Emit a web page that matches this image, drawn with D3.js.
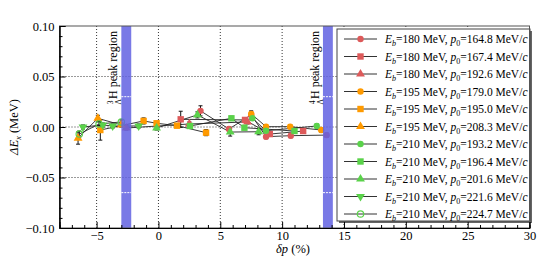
<!DOCTYPE html>
<html>
<head>
<meta charset="utf-8">
<script src="https://cdn.jsdelivr.net/npm/d3@7"></script>
<style>
  body { margin: 0; background: #fff; }
  svg { display: block; }
</style>
</head>
<body>
<svg id="chart" width="555" height="262"></svg>
<script>
// legend labels (beam energy, central momentum)
const beamE = [180, 180, 180, 195, 195, 195, 210, 210, 210, 210, 210];
const p0 = ['164.8', '167.4', '192.6', '179.0', '195.0', '208.3', '193.2', '196.4', '201.6', '221.6', '224.7'];
const colors = ['#dd5a5a', '#dd5a5a', '#dd5a5a', '#ff9a00', '#ff9a00', '#ff9a00', '#5ad24a', '#5ad24a', '#5ad24a', '#5ad24a', '#5ad24a'];
const shapes = ['circle', 'square', 'triangle', 'circle', 'square', 'triangle', 'circle', 'square', 'triangle', 'tridown', 'open'];

// dp (%) and dEx (MeV) for each setting
const dp = [
  [3.4, 5.7, 7.5, 8.7, 10.7, 13.6],
  [1.8, 7.0, 9.0, 11.7],
  [-2.6, 2.5, 7.2],
  [7.5, 8.7, 10.65, 13.16],
  [-4.7, -1.2, -0.15, 1.5, 3.85],
  [-6.5, -4.9, -3.0],
  [7.6, 8.7, 12.8],
  [2.55, 5.9, 6.95, 11.0],
  [-0.15, 3.15, 5.8, 8.1],
  [-6.1, -4.5, -3.7, -1.6],
  [-6.4, -4.8, -3.0]
];
const dEx = [
  [0.016, -0.002, 0.012, -0.0096, -0.0086, -0.008],
  [0.0076, 0.007, -0.007, -0.004],
  [-0.001, 0.003, 0.005],
  [0.013, 0.0003, 0.0003, -0.003],
  [-0.003, 0.006, 0.0037, 0.0013, -0.0056],
  [-0.011, 0.0086, 0.002],
  [0.0086, -0.0037, 0.001],
  [0.001, 0.0086, -0.0007, -0.004],
  [-0.001, 0.012, -0.005, -0.0047],
  [0.0, 0.002, 0.001, 0.001],
  [-0.007, 0.003, 0.005]
];
const dExErr = [
  [0.005, 0.002, 0.004, 0.002, 0.002, 0.002],
  [0.008, 0.002, 0.002, 0.002],
  [0.002, 0.002, 0.002],
  [0.002, 0.002, 0.002, 0.002],
  [0.01, 0.003, 0.002, 0.002, 0.003],
  [0.006, 0.003, 0.002],
  [0.002, 0.002, 0.002],
  [0.002, 0.002, 0.002, 0.002],
  [0.002, 0.003, 0.004, 0.003],
  [0.002, 0.002, 0.002, 0.002],
  [0.003, 0.002, 0.002]
];

// hypernuclear peak regions in dp (%)
const bands = [
  { label: '3', x0: -3.0, x1: -2.2 },
  { label: '4', x0: 13.3, x1: 14.1 }
];

const xTicks = [-5, 0, 5, 10, 15, 20, 25, 30];
const yTicks = [-0.1, -0.05, 0, 0.05, 0.1];

const FONT = '"Liberation Serif", "Times New Roman", Times, "DejaVu Serif", serif';
const svg = d3.select('#chart').attr('font-family', FONT);
const width = 555, height = 262;
const margin = { top: 26, right: 25.5, bottom: 34, left: 59.5 };

const x = d3.scaleLinear().domain([-8, 30]).range([margin.left, width - margin.right]);
const y = d3.scaleLinear().domain([-0.1, 0.1]).range([height - margin.bottom, margin.top]);

const fmtY = (d) => d3.format('.2f')(d).replace('-', '\u2212');
const fmtX = (d) => String(d).replace('-', '\u2212');

// grid
const grid = svg.append('g').attr('stroke', '#000').attr('stroke-width', 0.8).attr('stroke-dasharray', '1,2');
grid.selectAll('.gx').data(xTicks.filter((d) => d < 30)).enter().append('line')
  .attr('x1', (d) => x(d)).attr('x2', (d) => x(d)).attr('y1', y(0.1)).attr('y2', y(-0.1));
grid.selectAll('.gy').data([-0.05, 0, 0.05]).enter().append('line')
  .attr('x1', x(-8)).attr('x2', x(30)).attr('y1', (d) => y(d)).attr('y2', (d) => y(d));

// connecting lines
const line = d3.line().x((d) => x(d[0])).y((d) => y(d[1]));
dp.forEach((xs, i) => {
  svg.append('path')
    .attr('d', line(xs.map((v, j) => [v, dEx[i][j]])))
    .attr('fill', 'none').attr('stroke', '#222').attr('stroke-width', 0.9);
});

// error bars
dp.forEach((xs, i) => {
  xs.forEach((v, j) => {
    const e = dExErr[i][j];
    const g = svg.append('g').attr('stroke', '#111').attr('stroke-width', 1);
    g.append('line').attr('x1', x(v)).attr('x2', x(v)).attr('y1', y(dEx[i][j] - e)).attr('y2', y(dEx[i][j] + e));
    [dEx[i][j] - e, dEx[i][j] + e].forEach((t) => {
      g.append('line').attr('x1', x(v) - 2).attr('x2', x(v) + 2).attr('y1', y(t)).attr('y2', y(t));
    });
  });
});

// markers
function marker(g, shape, color, cx, cy) {
  if (shape === 'circle' || shape === 'open') {
    g.append('circle').attr('cx', cx).attr('cy', cy).attr('r', 3.2)
      .attr('fill', shape === 'open' ? 'none' : color)
      .attr('stroke', color).attr('stroke-width', shape === 'open' ? 1.2 : 0);
  } else if (shape === 'square') {
    g.append('rect').attr('x', cx - 3.2).attr('y', cy - 3.2).attr('width', 6.4).attr('height', 6.4).attr('fill', color);
  } else {
    const sym = d3.symbol().type(d3.symbolTriangle).size(34);
    g.append('path').attr('d', sym())
      .attr('transform', `translate(${cx},${cy})` + (shape === 'tridown' ? ' rotate(180)' : ''))
      .attr('fill', color);
  }
}
dp.forEach((xs, i) => {
  const g = svg.append('g');
  xs.forEach((v, j) => marker(g, shapes[i], colors[i], x(v), y(dEx[i][j])));
});

// peak-region bands
bands.forEach((b) => {
  svg.append('rect')
    .attr('x', x(b.x0)).attr('width', x(b.x1) - x(b.x0))
    .attr('y', y(0.1)).attr('height', y(-0.1) - y(0.1))
    .attr('fill', '#6262e2').attr('fill-opacity', 0.85);
  [0.03, -0.065].forEach((v) => {
    svg.append('line').attr('x1', x(b.x0)).attr('x2', x(b.x1)).attr('y1', y(v)).attr('y2', y(v))
      .attr('stroke', '#fff').attr('stroke-width', 1).attr('stroke-dasharray', '2,1');
  });
  const t = svg.append('text')
    .attr('transform', `translate(${x(b.x0) - 4},${y(0.1) + 5}) rotate(-90)`)
    .attr('text-anchor', 'end').attr('font-size', 12).attr('fill', '#000');
  t.append('tspan').attr('font-size', 7.5).attr('dy', -4).text(b.label);
  t.append('tspan').attr('font-size', 7.5).attr('dy', 8).attr('dx', -4).text('\u039B');
  t.append('tspan').attr('dy', -4).text('H peak region');
});

// legend
const lgX = 337, lgY = 29, lgW = 193, lgH = 192;
svg.append('rect').attr('x', lgX + 2).attr('y', lgY + 2).attr('width', lgW).attr('height', lgH).attr('fill', '#666');
svg.append('rect').attr('x', lgX).attr('y', lgY).attr('width', lgW).attr('height', lgH)
  .attr('fill', '#fff').attr('stroke', '#444').attr('stroke-width', 1);
const rowY = d3.scalePoint().domain(d3.range(beamE.length)).range([lgY + 10, lgY + lgH - 7]);
beamE.forEach((e, i) => {
  const ry = rowY(i);
  const g = svg.append('g');
  g.append('line').attr('x1', 344).attr('x2', 377).attr('y1', ry).attr('y2', ry).attr('stroke', '#333').attr('stroke-width', 1);
  marker(g, shapes[i], colors[i], 360.5, ry);
  const t = g.append('text').attr('x', 385).attr('y', ry + 4).attr('font-size', 11.5).attr('fill', '#000');
  t.append('tspan').attr('font-style', 'italic').text('E');
  t.append('tspan').attr('font-style', 'italic').attr('font-size', 8).attr('dy', 3).text('b');
  t.append('tspan').attr('dy', -3).text(`=${e} MeV, `);
  t.append('tspan').attr('font-style', 'italic').text('p');
  t.append('tspan').attr('font-size', 8).attr('dy', 3).text('0');
  t.append('tspan').attr('dy', -3).text(`=${p0[i]} MeV/`);
  t.append('tspan').attr('font-style', 'italic').text('c');
});

// frame
svg.append('rect').attr('x', x(-8)).attr('y', y(0.1)).attr('width', x(30) - x(-8)).attr('height', y(-0.1) - y(0.1))
  .attr('fill', 'none').attr('stroke', '#555').attr('stroke-width', 1);

// axes
svg.append('g').attr('transform', `translate(0,${y(-0.1)})`)
  .call(d3.axisBottom(x).tickValues(xTicks).tickSize(-6).tickPadding(3).tickFormat(fmtX));
svg.append('g').attr('transform', `translate(0,${y(-0.1)})`)
  .call(d3.axisBottom(x).tickValues(d3.range(-7, 30).filter((d) => d % 5 !== 0)).tickSize(-3).tickFormat(''));
svg.append('g').attr('transform', `translate(${x(-8)},0)`)
  .call(d3.axisLeft(y).tickValues(yTicks).tickSize(-6).tickPadding(5).tickFormat(fmtY));
svg.append('g').attr('transform', `translate(${x(-8)},0)`)
  .call(d3.axisLeft(y).tickValues(d3.range(-10, 11).filter((i) => i % 5 !== 0).map((i) => i / 100))
    .tickSize(-3).tickFormat(''));
svg.selectAll('.domain').attr('stroke', '#000');
svg.selectAll('.tick line').attr('stroke', '#000');
svg.selectAll('g[font-family]').attr('font-family', FONT);
svg.selectAll('.tick text').attr('font-size', 12.5).attr('fill', '#000');

// axis titles
const xt = svg.append('text').attr('x', 293).attr('y', 253).attr('text-anchor', 'middle').attr('font-size', 12.5);
xt.append('tspan').attr('font-style', 'italic').text('\u03B4p');
xt.append('tspan').text(' (%)');
const yt = svg.append('text').attr('transform', `translate(18,127) rotate(-90)`).attr('text-anchor', 'middle').attr('font-size', 12.5);
yt.append('tspan').attr('font-style', 'italic').text('\u0394E');
yt.append('tspan').attr('font-style', 'italic').attr('font-size', 8.5).attr('dy', 3).text('x');
yt.append('tspan').attr('dy', -3).text(' (MeV)');
</script>
</body>
</html>
